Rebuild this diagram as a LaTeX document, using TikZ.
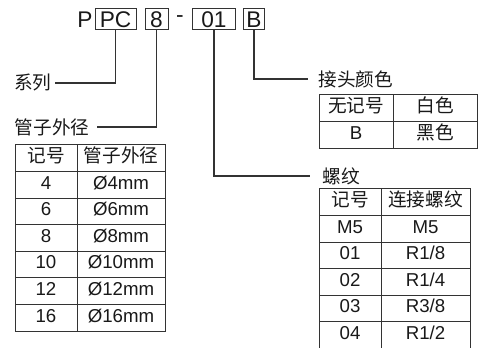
\documentclass[tikz,border=0pt]{standalone}
\usepackage{fontspec}
\setmainfont{Liberation Sans}
\newfontfamily\cjk{Noto Sans CJK SC}
\usetikzlibrary{calc, positioning}
\definecolor{inkline}{gray}{0.2}
\definecolor{inktext}{gray}{0.1}

\begin{document}
\begin{tikzpicture}[x=0.75pt, y=-0.75pt, line width=0.75pt,
  codebox/.style={draw=inkline, inner sep=0pt, minimum height=15.75pt, text=inktext,
    font=\fontsize{17}{17}\selectfont},
  codechar/.style={inner sep=0pt, text=inktext, font=\fontsize{17}{17}\selectfont},
  tag/.style={inner sep=0pt, text=inktext, font=\fontsize{14}{14}\selectfont\cjk},
  cell/.style={inner sep=0pt, text=inktext, text height=1.45ex, text depth=0.25ex,
    font=\fontsize{14}{14}\selectfont},
  lead/.style={draw=inkline, line width=0.9pt},
  grid/.style={draw=inkline, line width=0.75pt}]
\useasboundingbox (0,0) rectangle (478,348);
\clip (0,0) rectangle (478,348);
\def\rowh{26.6}
\def\codey{19.5}

% model code
\node[codechar] (p) at (85,\codey) {P};
\node[codebox, minimum width=30.75pt] (pc) at (115.5,\codey) {PC};
\node[codebox, minimum width=17.25pt] (size) at (156.5,\codey) {8};
\node[codechar] (dash) at (180,\codey) {-};
\node[codebox, minimum width=32pt] (thread) at (214,\codey) {01};
\node[codebox, minimum width=16pt] (joint) at (254,\codey) {B};

% labels
\node[tag, anchor=east] (series) at (52,83) {系列};
\node[tag, anchor=east] (outer) at (90,127) {管子外径};
\node[tag, anchor=west] (colour) at (318,79) {接头颜色};
\node[tag, anchor=west] (screw) at (322,176) {螺纹};

\draw[lead] (pc.south) |- ([xshift=2.25pt]series.east);
\draw[lead] (size.south) |- ([xshift=5.25pt]outer.east);
\draw[lead] (thread.south) |- ([xshift=-9pt]screw.west);
\draw[lead] (joint.south) |- ([xshift=-7.5pt]colour.west);

% tube size table
\draw[grid] (15,145) rectangle (165,{145+7*\rowh});
\draw[grid] (77,145) -- (77,{145+7*\rowh});
\foreach \i in {1,...,6}
  \draw[grid] (15,{145+\i*\rowh}) -- (165,{145+\i*\rowh});
\foreach \a/\b [count=\i from 0] in {{\cjk 记号}/{\cjk 管子外径}, 4/Ø4mm, 6/Ø6mm,
    8/Ø8mm, 10/Ø10mm, 12/Ø12mm, 16/Ø16mm} {
  \node[cell] (sa\i) at (46,{145+\i*\rowh+\rowh/2}) {\a};
  \node[cell] (sb\i) at (121,{145+\i*\rowh+\rowh/2}) {\b};
}

% colour table
\draw[grid] (319,95) rectangle (477.5,{95+2*\rowh});
\draw[grid] (393,95) -- (393,{95+2*\rowh});
\draw[grid] (319,{95+\rowh}) -- (477.5,{95+\rowh});
\foreach \a/\b [count=\i from 0] in {{\cjk 无记号}/{\cjk 白色}, B/{\cjk 黑色}} {
  \node[cell] (ca\i) at (356,{95+\i*\rowh+\rowh/2}) {\a};
  \node[cell] (cb\i) at (435,{95+\i*\rowh+\rowh/2}) {\b};
}

% thread table
\draw[grid] (319,189) rectangle (470,{189+6*\rowh});
\draw[grid] (381,189) -- (381,{189+6*\rowh});
\foreach \i in {1,...,5}
  \draw[grid] (319,{189+\i*\rowh}) -- (470,{189+\i*\rowh});
\foreach \a/\b [count=\i from 0] in {{\cjk 记号}/{\cjk 连接螺纹}, M5/M5, {01}/{R1/8},
    {02}/{R1/4}, {03}/{R3/8}, {04}/{R1/2}} {
  \node[cell] (ta\i) at (350,{189+\i*\rowh+\rowh/2}) {\a};
  \node[cell] (tb\i) at (425.5,{189+\i*\rowh+\rowh/2}) {\b};
}
\end{tikzpicture}
\end{document}
